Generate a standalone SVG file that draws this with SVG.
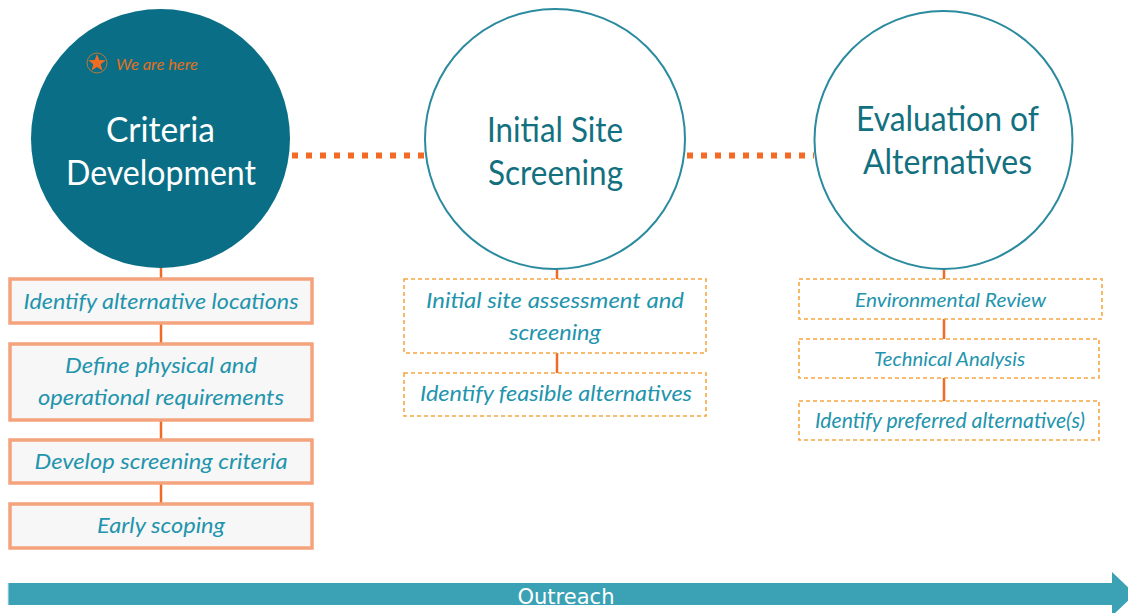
<svg xmlns="http://www.w3.org/2000/svg" width="1128" height="613" viewBox="0 0 1128 613">
  <style>
    .head { font-family: Lato, "Open Sans", sans-serif; font-size: 34px; text-anchor: middle; }
    .step { font-family: Lato, "Open Sans", sans-serif; font-style: italic; fill: #2294ad; text-anchor: middle; }
    .solid { fill: #f7f7f7; stroke: #f4a37c; stroke-width: 3.5; }
    .dash { fill: #ffffff; stroke: #f5a742; stroke-width: 1.6; stroke-dasharray: 4 3; }
    .link { stroke: #f06a28; stroke-width: 2.5; fill: none; }
    .dots { stroke: #f46a25; stroke-width: 6; stroke-dasharray: 6 8; fill: none; }
    .ring { fill: #ffffff; stroke: #2a8a9e; stroke-width: 2; }
  </style>

  <!-- connectors -->
  <g id="connectors">
    <line class="dots" x1="292" y1="155.5" x2="425" y2="155.5"/>
    <line class="dots" x1="687" y1="155.5" x2="814" y2="155.5"/>
    <line class="link" x1="161" y1="266" x2="161" y2="503"/>
    <line class="link" x1="557" y1="266" x2="557" y2="373"/>
    <line class="link" x1="944" y1="266" x2="944" y2="401"/>
  </g>

  <!-- phase circles -->
  <g id="criteria-development">
    <circle cx="160.5" cy="138.5" r="129.5" fill="#0a6f86"/>
    <circle cx="97" cy="63" r="10" fill="none" stroke="#b4783a" stroke-width="1"/>
    <polygon points="97,54 99.3,60.1 105.8,60.3 100.7,64.3 102.5,70.6 97,66.9 91.5,70.6 93.3,64.3 88.2,60.3 94.7,60.1" fill="#ef6c22"/>
    <text x="116" y="70" font-family="Lato, 'Open Sans', sans-serif" font-style="italic" font-size="15" fill="#e3701f" textLength="82" lengthAdjust="spacingAndGlyphs">We are here</text>
    <text class="head" x="160.5" y="142" fill="#ffffff" textLength="109" lengthAdjust="spacingAndGlyphs">Criteria</text>
    <text class="head" x="161" y="185" fill="#ffffff" textLength="190" lengthAdjust="spacingAndGlyphs">Development</text>
  </g>

  <g id="initial-site-screening">
    <circle class="ring" cx="555" cy="139" r="130"/>
    <text class="head" x="555" y="142" fill="#12707f" textLength="136" lengthAdjust="spacingAndGlyphs">Initial Site</text>
    <text class="head" x="555.5" y="185" fill="#12707f" textLength="135" lengthAdjust="spacingAndGlyphs">Screening</text>
  </g>

  <g id="evaluation-of-alternatives">
    <circle class="ring" cx="943.5" cy="140" r="129"/>
    <text class="head" x="947.5" y="131" fill="#12707f" textLength="183" lengthAdjust="spacingAndGlyphs">Evaluation of</text>
    <text class="head" x="947.5" y="174" fill="#12707f" textLength="169" lengthAdjust="spacingAndGlyphs">Alternatives</text>
  </g>

  <!-- criteria development steps -->
  <g id="identify-locations">
    <rect class="solid" x="10" y="279" width="302" height="44"/>
    <text class="step" x="161" y="309" font-size="22" textLength="275" lengthAdjust="spacingAndGlyphs">Identify alternative locations</text>
  </g>
  <g id="define-requirements">
    <rect class="solid" x="10" y="344" width="302" height="76"/>
    <text class="step" x="161" y="373" font-size="22" textLength="192" lengthAdjust="spacingAndGlyphs">Define physical and</text>
    <text class="step" x="161" y="405" font-size="22" textLength="246" lengthAdjust="spacingAndGlyphs">operational requirements</text>
  </g>
  <g id="develop-criteria">
    <rect class="solid" x="10" y="440" width="302" height="43"/>
    <text class="step" x="161" y="469" font-size="22" textLength="253" lengthAdjust="spacingAndGlyphs">Develop screening criteria</text>
  </g>
  <g id="early-scoping">
    <rect class="solid" x="10" y="504" width="302" height="44"/>
    <text class="step" x="161" y="533" font-size="22" textLength="128" lengthAdjust="spacingAndGlyphs">Early scoping</text>
  </g>

  <!-- initial site screening steps -->
  <g id="site-assessment">
    <rect class="dash" x="404" y="279" width="302" height="74"/>
    <text class="step" x="555" y="308" font-size="22" textLength="258" lengthAdjust="spacingAndGlyphs">Initial site assessment and</text>
    <text class="step" x="555" y="340" font-size="22" textLength="92" lengthAdjust="spacingAndGlyphs">screening</text>
  </g>
  <g id="feasible-alternatives">
    <rect class="dash" x="404" y="373" width="302" height="43"/>
    <text class="step" x="556" y="401" font-size="22" textLength="272" lengthAdjust="spacingAndGlyphs">Identify feasible alternatives</text>
  </g>

  <!-- evaluation steps -->
  <g id="environmental-review">
    <rect class="dash" x="799" y="279" width="303" height="40"/>
    <text class="step" x="950.5" y="307" font-size="19" textLength="191" lengthAdjust="spacingAndGlyphs">Environmental Review</text>
  </g>
  <g id="technical-analysis">
    <rect class="dash" x="799" y="339" width="300" height="39"/>
    <text class="step" x="949.5" y="366" font-size="19" textLength="151" lengthAdjust="spacingAndGlyphs">Technical Analysis</text>
  </g>
  <g id="preferred-alternative">
    <rect class="dash" x="799" y="401" width="300" height="39"/>
    <text class="step" x="950" y="428" font-size="21" textLength="270" lengthAdjust="spacingAndGlyphs">Identify preferred alternative(s)</text>
  </g>

  <!-- outreach band -->
  <g id="outreach">
    <polygon points="8,583 1112,583 1112,572 1135,594 1112,616 1112,605 8,605" fill="#3ba1b5"/>
    <line x1="8" y1="583" x2="8" y2="605" stroke="#cfe6ec" stroke-width="1"/>
    <text x="566" y="603.5" font-family="'DejaVu Sans', sans-serif" font-size="21" fill="#ffffff" text-anchor="middle" textLength="97" lengthAdjust="spacingAndGlyphs">Outreach</text>
  </g>
</svg>
